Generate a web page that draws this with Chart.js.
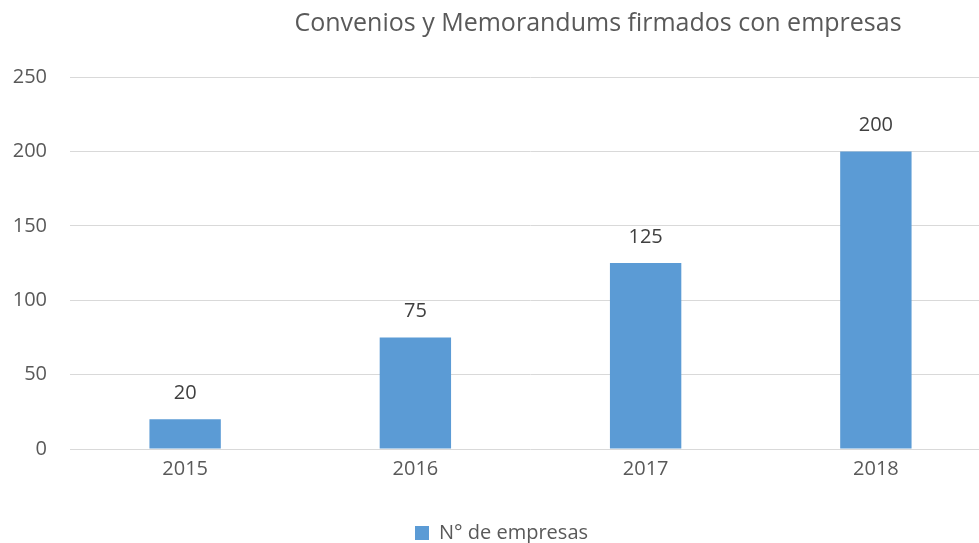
<!DOCTYPE html>
<html>
<head>
<meta charset="utf-8">
<script src="https://cdn.jsdelivr.net/npm/chart.js@4"></script>
<style>
  html, body { margin: 0; padding: 0; background: #fff; overflow: hidden; }
  #wrap { position: relative; width: 979px; height: 543px; overflow: hidden; }
  #title {
    position: absolute; left: 0; top: 4px; width: 1196px; text-align: center;
    font-family: "Open Sans", sans-serif; font-size: 25px; line-height: 34px; color: #595959;
  }
  #box { position: absolute; left: 0; top: 0; width: 1000px; height: 553px; }
</style>
</head>
<body>
<div id="wrap">
  <div id="box"><canvas id="barChart"></canvas></div>
  <div id="title">Convenios y Memorandums firmados con empresas</div>
</div>
<script>
const years = ['2015', '2016', '2017', '2018'];
const empresas = [20, 75, 125, 200];
const seriesName = 'N° de empresas';
const yTicks = [0, 50, 100, 150, 200, 250];

const textColor = '#595959';
const barColor = '#5B9BD5';
const gridColor = '#D9D9D9';
Chart.defaults.font.family = '"Open Sans", sans-serif';
Chart.defaults.font.size = 20;
Chart.defaults.color = textColor;

// labels over the bars
const valueLabels = {
  id: 'valueLabels',
  afterDatasetsDraw(chart) {
    const ctx = chart.ctx;
    ctx.save();
    ctx.font = '20px "Open Sans", sans-serif';
    ctx.fillStyle = '#404040';
    ctx.textAlign = 'center';
    ctx.textBaseline = 'bottom';
    chart.getDatasetMeta(0).data.forEach((bar, i) => {
      ctx.fillText(String(empresas[i]), bar.x, bar.y - 16);
    });
    ctx.restore();
  }
};

new Chart(document.getElementById('barChart'), {
  type: 'bar',
  data: {
    labels: years,
    datasets: [{
      label: seriesName,
      data: empresas,
      backgroundColor: barColor,
      borderWidth: 0,
      categoryPercentage: 1,
      barPercentage: 0.31
    }]
  },
  options: {
    responsive: true,
    maintainAspectRatio: false,
    animation: false,
    layout: { padding: { top: 77, left: 12, right: 9, bottom: 0 } },
    plugins: {
      title: { display: false },
      tooltip: { enabled: false },
      legend: {
        position: 'bottom',
        labels: { boxWidth: 14, boxHeight: 14, padding: 34, color: textColor, font: { size: 20 } }
      }
    },
    scales: {
      x: {
        grid: { display: false, drawTicks: false },
        border: { display: false },
        ticks: { padding: 8, color: textColor }
      },
      y: {
        min: 0,
        max: 250,
        afterBuildTicks(scale) { scale.ticks = yTicks.map(v => ({ value: v })); },
        afterFit(scale) { scale.width = 58; },
        grid: { color: gridColor, lineWidth: 1, drawTicks: false },
        border: { display: false },
        ticks: { padding: 23, color: textColor }
      }
    }
  },
  plugins: [valueLabels]
});
</script>
</body>
</html>
